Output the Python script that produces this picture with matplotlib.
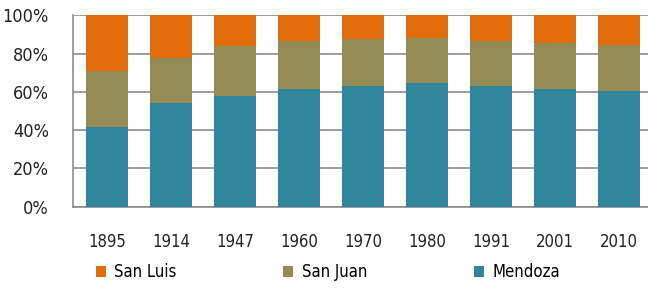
import matplotlib
matplotlib.use('Agg')
import matplotlib.pyplot as plt
from matplotlib import font_manager
import numpy as np

years = ['1895', '1914', '1947', '1960', '1970', '1980', '1991', '2001', '2010']
mendoza = [41.8, 54.0, 57.8, 61.3, 63.1, 64.8, 63.1, 61.3, 60.4]
san_juan = [29.3, 23.8, 26.3, 25.4, 24.4, 23.5, 23.5, 24.4, 24.1]
san_luis = [28.9, 22.2, 15.9, 13.3, 12.5, 11.7, 13.4, 14.3, 15.5]

c_luis = '#e36c0a'
c_juan = '#948a54'
c_mza = '#31859c'
grid_c = '#8c8c8c'

# narrow face, the original uses a condensed font
fp = dict(family='DejaVu Sans', stretch='condensed')

fig = plt.figure(figsize=(6.48, 2.91), dpi=100)
ax = fig.add_axes([0.112, 0.29, 0.888, 0.657])

x = np.arange(len(years))
w = 0.66
m = np.array(mendoza)
j = np.array(san_juan)
l = np.array(san_luis)
b1 = ax.bar(x, m, w, color=c_mza, zorder=3, label='Mendoza')
b2 = ax.bar(x, j, w, bottom=m, color=c_juan, zorder=3, label='San Juan')
b3 = ax.bar(x, l, w, bottom=m + j, color=c_luis, zorder=3, label='San Luis')

ax.set_ylim(0, 100)
ax.set_xlim(-0.536, 8.453)
ax.set_yticks([0, 20, 40, 60, 80, 100])
ax.set_yticklabels(['0%', '20%', '40%', '60%', '80%', '100%'], fontsize=13, color='#222222', **fp)
ax.set_xticks(x)
ax.set_xticklabels(years, fontsize=12, color='#222222', **fp)
ax.tick_params(axis='y', length=0, pad=17)
ax.tick_params(axis='x', length=0, pad=19)
ax.yaxis.grid(True, color=grid_c, linewidth=1.2, zorder=0)
for s in ['top', 'right']:
    ax.spines[s].set_visible(False)
for s in ['left', 'bottom']:
    ax.spines[s].set_color(grid_c)
    ax.spines[s].set_linewidth(1.2)

fig.legend([b3, b2, b1], ['San Luis', 'San Juan', 'Mendoza'], ncol=3,
           bbox_to_anchor=(0.125, 0.065), loc='center left', frameon=False,
           handlelength=0.6, handleheight=0.6, handletextpad=0.5, columnspacing=6.4,
           prop=font_manager.FontProperties(size=12, **fp))

fig.savefig('out.png', dpi=100)
